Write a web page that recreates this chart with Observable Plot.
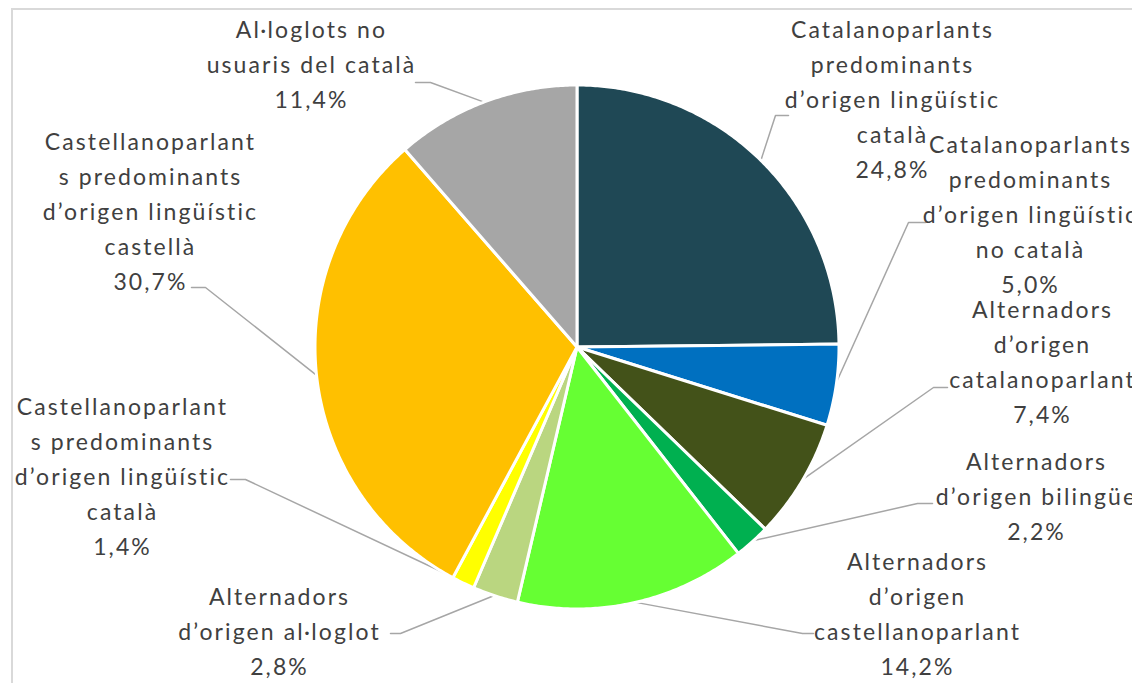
<!DOCTYPE html>
<html><head><meta charset="utf-8">
<script src="https://cdn.jsdelivr.net/npm/d3@7"></script>
<script src="https://cdn.jsdelivr.net/npm/@observablehq/plot@0.6"></script>
<style>
html,body{margin:0;padding:0;background:#fff;overflow:hidden;}
#chart{position:relative;width:1132px;height:683px;}
#frame{position:absolute;left:11px;top:8px;width:1140px;height:700px;border:2px solid #d9d9d9;box-sizing:border-box;pointer-events:none;}
#chart svg text{letter-spacing:2.1px;}
</style></head><body>
<div id="chart"><div id="frame"></div></div>
<script>
// ---- data ----
const categories = [
  "Catalanoparlants\npredominants\nd’origen lingüístic\ncatalà",
  "Catalanoparlants\npredominants\nd’origen lingüístic\nno català",
  "Alternadors\nd’origen\ncatalanoparlant",
  "Alternadors\nd’origen bilingüe",
  "Alternadors\nd’origen\ncastellanoparlant",
  "Alternadors\nd’origen al·loglot",
  "Castellanoparlant\ns predominants\nd’origen lingüístic\ncatalà",
  "Castellanoparlant\ns predominants\nd’origen lingüístic\ncastellà",
  "Al·loglots no\nusuaris del català"
];
const values = [24.8, 5.0, 7.4, 2.2, 14.2, 2.8, 1.4, 30.7, 11.4];

// ---- styles ----
const sliceColors = ["#1F4855", "#0070C0", "#435219", "#00B050", "#66FF33", "#BAD680", "#FFFF00", "#FFC000", "#A6A6A6"];

// ---- layout ----
const W = 1132, H = 683, cx = 576.5, cy = 346.5, R = 262;
const labelAnchors = [[892,30],[1030,145],[1042,310],[1036,462],[917,562],[279,597],[122,407],[150,142],[311,30]];
const leaderElbows = [
  [[775,115],[788,115]],
  [[908,222],[925,222]],
  [[933,387],[947,387]],
  [[917,503],[932,503]],
  [[802,633],[813,633]],
  [[400,633],[390,633]],
  [[245,479],[230,479]],
  [[205,287],[191,287]],
  [[430,82],[415,82]]
];
const lineGap = 35;

const fmt = v => d3.format(".1f")(v).replace(".", ",") + "%";
const arcs = d3.pie().sort(null).value(d => d)(values);
const pt = (a, r) => ({x: cx + r * Math.sin(a), y: cy - r * Math.cos(a)});

const sliceRows = [];
arcs.forEach((a, i) => {
  const cat = categories[i];
  sliceRows.push({cat, x: cx, y: cy});
  const step = Math.PI / 360;
  for (let t = a.startAngle; t < a.endAngle; t += step) sliceRows.push({cat, ...pt(t, R)});
  sliceRows.push({cat, ...pt(a.endAngle, R)});
  sliceRows.push({cat, x: cx, y: cy});
});

const leaderRows = [];
arcs.forEach((a, i) => {
  const mid = (a.startAngle + a.endAngle) / 2;
  leaderRows.push({i, ...pt(mid, R - 1)});
  leaderElbows[i].forEach(([x, y]) => leaderRows.push({i, x, y}));
});

const textRows = [];
categories.forEach((c, i) => {
  const lines = c.split("\n").concat([fmt(values[i])]);
  lines.forEach((t, j) => textRows.push({text: t, x: labelAnchors[i][0], y: labelAnchors[i][1] + j * lineGap}));
});

const chart = Plot.plot({
  width: W, height: H, margin: 0,
  x: {domain: [0, W], range: [0, W], axis: null},
  y: {domain: [0, H], range: [0, H], axis: null},
  color: {domain: categories, range: sliceColors},
  style: {background: "transparent", fontFamily: "Lato, 'Open Sans', sans-serif"},
  marks: [
    Plot.line(leaderRows, {x: "x", y: "y", z: "i", stroke: "#A6A6A6", strokeWidth: 1.5, curve: "linear"}),
    Plot.line(sliceRows, {x: "x", y: "y", z: "cat", fill: "cat", stroke: "white", strokeWidth: 3, strokeLinejoin: "round", curve: "linear"}),
    Plot.text(textRows, {x: "x", y: "y", text: "text", fill: "#404040", fontSize: 23, fontFamily: "Lato", textAnchor: "middle"})
  ]
});
document.getElementById("chart").appendChild(chart);
</script>
</body></html>
